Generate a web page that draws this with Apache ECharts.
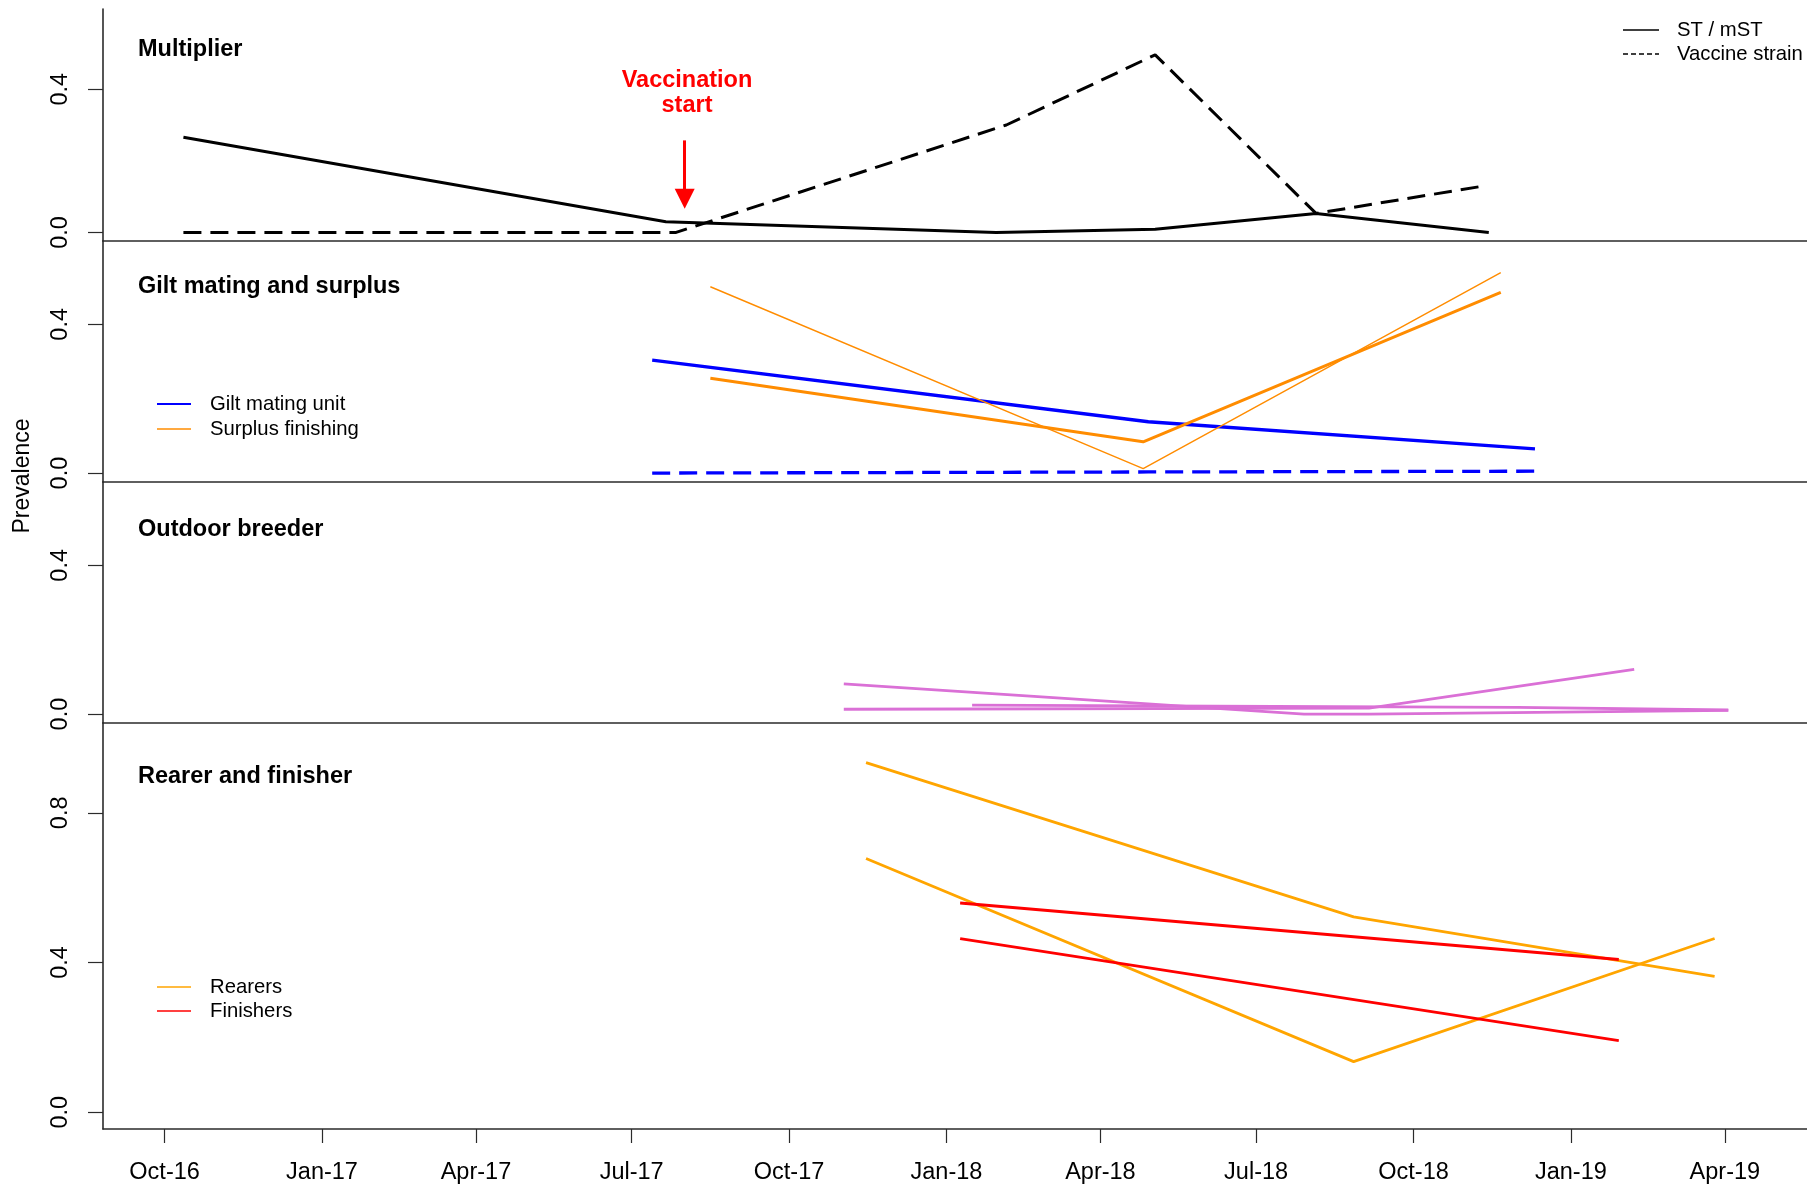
<!DOCTYPE html>
<html>
<head>
<meta charset="utf-8">
<script src="https://cdn.jsdelivr.net/npm/echarts@6/dist/echarts.min.js"></script>
<style>
  html, body { margin: 0; padding: 0; background: #ffffff; }
  #chart { width: 1807px; height: 1185px; }
</style>
</head>
<body>
<div id="chart"></div>
<script>
const d = (y, m, day) => Date.UTC(y, m - 1, day);

// Shared quarterly time axis (dates as UTC milliseconds)
const quarterTicks = [
  d(2016, 10, 1), d(2017, 1, 1), d(2017, 4, 1), d(2017, 7, 1), d(2017, 10, 1),
  d(2018, 1, 1), d(2018, 4, 1), d(2018, 7, 1), d(2018, 10, 1), d(2019, 1, 1), d(2019, 4, 1)
];
const quarterLabels = [
  'Oct-16', 'Jan-17', 'Apr-17', 'Jul-17', 'Oct-17',
  'Jan-18', 'Apr-18', 'Jul-18', 'Oct-18', 'Jan-19', 'Apr-19'
];
const prevalenceTicks = [0, 0.4];
const prevalenceTicksTall = [0, 0.4, 0.8];

// Multiplier: field strain (ST / mST) and vaccine strain
const multiplierSt = [
  [d(2016, 10, 12), 0.266], [d(2017, 7, 21), 0.030], [d(2018, 1, 30), 0.000],
  [d(2018, 5, 3), 0.009], [d(2018, 8, 5), 0.053], [d(2018, 11, 14), 0.000]
];
const multiplierVaccine = [
  [d(2016, 10, 12), 0.000], [d(2017, 7, 27), 0.000], [d(2018, 2, 5), 0.300],
  [d(2018, 5, 3), 0.496], [d(2018, 8, 5), 0.053], [d(2018, 11, 9), 0.128]
];
const vaccinationStart = d(2017, 8, 1);

// Gilt mating and surplus
const giltSt = [[d(2017, 7, 13), 0.304], [d(2018, 4, 29), 0.138], [d(2018, 12, 11), 0.065]];
const giltVaccine = [[d(2017, 7, 13), 0.000], [d(2018, 4, 29), 0.003], [d(2018, 12, 11), 0.005]];
const surplusA = [[d(2017, 8, 16), 0.255], [d(2018, 4, 26), 0.084], [d(2018, 11, 21), 0.486]];
const surplusB = [[d(2017, 8, 16), 0.501], [d(2018, 4, 26), 0.012], [d(2018, 11, 21), 0.539]];

// Outdoor breeder
const outdoorA = [[d(2017, 11, 2), 0.081], [d(2018, 7, 29), 0.000], [d(2018, 9, 5), 0.000], [d(2019, 4, 3), 0.010]];
const outdoorB = [[d(2017, 11, 2), 0.013], [d(2018, 9, 5), 0.016], [d(2019, 2, 7), 0.120]];
const outdoorC = [[d(2018, 1, 16), 0.024], [d(2018, 12, 1), 0.018], [d(2019, 4, 3), 0.011]];

// Rearer and finisher
const rearersA = [[d(2017, 11, 15), 0.934], [d(2018, 8, 27), 0.522], [d(2019, 3, 26), 0.363]];
const rearersB = [[d(2017, 11, 15), 0.678], [d(2018, 8, 27), 0.135], [d(2019, 3, 26), 0.464]];
const finishersA = [[d(2018, 1, 9), 0.559], [d(2019, 1, 29), 0.408]];
const finishersB = [[d(2018, 1, 9), 0.464], [d(2019, 1, 29), 0.191]];

const FONT = '"Liberation Sans", Arial, sans-serif';
const AXIS_COLOR = '#2b2b2b';
const BLUE = '#0000FF', DARKORANGE = '#FF8C00', ORANGE = '#FFA500', RED = '#FF0000', ORCHID = '#DA70D6';

const panels = [
  { top: 9,   height: 232, min: -0.024, max: 0.624, ticks: prevalenceTicks },
  { top: 241, height: 241, min: -0.024, max: 0.624, ticks: prevalenceTicks },
  { top: 482, height: 241, min: -0.024, max: 0.624, ticks: prevalenceTicks },
  { top: 723, height: 406, min: -0.045, max: 1.040, ticks: prevalenceTicksTall }
];

const grid = panels.map(p => ({ left: 103, right: 0, top: p.top, height: p.height }));

const xAxis = panels.map((p, i) => {
  const last = i === panels.length - 1;
  return {
    type: 'value',
    gridIndex: i,
    min: d(2016, 8, 26),
    max: d(2019, 5, 19),
    scale: true,
    splitLine: { show: false },
    axisLine: { show: true, onZero: false, lineStyle: { color: AXIS_COLOR, width: 1.6 } },
    axisTick: {
      show: last, length: 14, inside: false,
      customValues: quarterTicks,
      lineStyle: { color: AXIS_COLOR, width: 1.2 }
    },
    axisLabel: {
      show: last, margin: 32,
      customValues: quarterTicks,
      color: '#000', fontFamily: FONT, fontSize: 23.5,
      formatter: v => {
        const k = quarterTicks.indexOf(v);
        return k >= 0 ? quarterLabels[k] : '';
      }
    }
  };
});

const yAxis = panels.map((p, i) => ({
  type: 'value',
  gridIndex: i,
  min: p.min,
  max: p.max,
  splitLine: { show: false },
  axisLine: { show: true, onZero: false, lineStyle: { color: AXIS_COLOR, width: 1.6 } },
  axisTick: { show: true, length: 15, customValues: p.ticks, lineStyle: { color: AXIS_COLOR, width: 1.2 } },
  axisLabel: {
    show: true, rotate: 90, margin: 30,
    customValues: p.ticks,
    color: '#000', fontFamily: FONT, fontSize: 23.5,
    formatter: v => v.toFixed(1)
  }
}));

function line(name, data, panel, color, width, dashed) {
  return {
    type: 'line',
    name: name,
    data: data,
    xAxisIndex: panel,
    yAxisIndex: panel,
    showSymbol: false,
    symbol: 'none',
    silent: true,
    lineStyle: { color: color, width: width, type: dashed ? [18, 9] : 'solid' },
    emphasis: { disabled: true },
    z: 3
  };
}

const series = [
  Object.assign(line('ST / mST', multiplierSt, 0, '#000', 3, false), {
    // red arrow marking the start of vaccination
    markLine: {
      silent: true,
      symbol: ['none', 'triangle'],
      symbolSize: 20,
      label: { show: false },
      itemStyle: { color: RED },
      lineStyle: { color: RED, width: 3, type: 'solid' },
      emphasis: { disabled: true },
      data: [[{ coord: [vaccinationStart, 0.257] }, { coord: [vaccinationStart, 0.094] }]]
    }
  }),
  line('Vaccine strain', multiplierVaccine, 0, '#000', 3, true),

  line('Gilt mating unit', giltSt, 1, BLUE, 3.3, false),
  line('Gilt mating unit vaccine strain', giltVaccine, 1, BLUE, 3.3, true),
  line('Surplus finishing', surplusA, 1, DARKORANGE, 3, false),
  line('Surplus finishing (second unit)', surplusB, 1, DARKORANGE, 1.4, false),

  line('Outdoor breeder A', outdoorA, 2, ORCHID, 2.8, false),
  line('Outdoor breeder B', outdoorB, 2, ORCHID, 2.8, false),
  line('Outdoor breeder C', outdoorC, 2, ORCHID, 2.8, false),

  line('Rearers', rearersA, 3, ORANGE, 2.8, false),
  line('Rearers (second unit)', rearersB, 3, ORANGE, 2.8, false),
  line('Finishers', finishersA, 3, RED, 2.8, false),
  line('Finishers (second unit)', finishersB, 3, RED, 2.8, false)
];

function title(text, y) {
  return {
    type: 'text', x: 138, y: y,
    style: { text: text, fill: '#000', font: 'bold 23.5px ' + FONT, textAlign: 'left', textVerticalAlign: 'middle' }
  };
}
function legendRow(label, color, width, dash, y) {
  return [
    { type: 'line', shape: { x1: 157, y1: y, x2: 191, y2: y },
      style: { stroke: color, lineWidth: width, lineDash: dash || null } },
    { type: 'text', x: 210, y: y,
      style: { text: label, fill: '#000', font: '20.3px ' + FONT, textAlign: 'left', textVerticalAlign: 'middle' } }
  ];
}
function legendRowRight(label, dash, y) {
  return [
    { type: 'line', shape: { x1: 1623, y1: y, x2: 1659, y2: y },
      style: { stroke: '#000', lineWidth: 1.3, lineDash: dash || null } },
    { type: 'text', x: 1677, y: y,
      style: { text: label, fill: '#000', font: '20.3px ' + FONT, textAlign: 'left', textVerticalAlign: 'middle' } }
  ];
}

const graphic = [
  title('Multiplier', 50),
  title('Gilt mating and surplus', 287),
  title('Outdoor breeder', 530),
  title('Rearer and finisher', 777),
  { type: 'text', x: 687, y: 81,
    style: { text: 'Vaccination', fill: RED, font: 'bold 23.5px ' + FONT, textAlign: 'center', textVerticalAlign: 'middle' } },
  { type: 'text', x: 687, y: 106,
    style: { text: 'start', fill: RED, font: 'bold 23.5px ' + FONT, textAlign: 'center', textVerticalAlign: 'middle' } },
  { type: 'text', x: 23, y: 476, rotation: Math.PI / 2,
    style: { text: 'Prevalence', fill: '#000', font: '23px ' + FONT, textAlign: 'center', textVerticalAlign: 'middle' } },
  ...legendRowRight('ST / mST', null, 30),
  ...legendRowRight('Vaccine strain', [5, 3], 54),
  ...legendRow('Gilt mating unit', BLUE, 2.2, null, 404),
  ...legendRow('Surplus finishing', DARKORANGE, 1.4, null, 429),
  ...legendRow('Rearers', ORANGE, 1.6, null, 987),
  ...legendRow('Finishers', RED, 1.6, null, 1011)
];

const chart = echarts.init(document.getElementById('chart'), null, { renderer: 'canvas' });
chart.setOption({
  backgroundColor: '#ffffff',
  animation: false,
  grid: grid,
  xAxis: xAxis,
  yAxis: yAxis,
  series: series,
  graphic: graphic
});
</script>
</body>
</html>
